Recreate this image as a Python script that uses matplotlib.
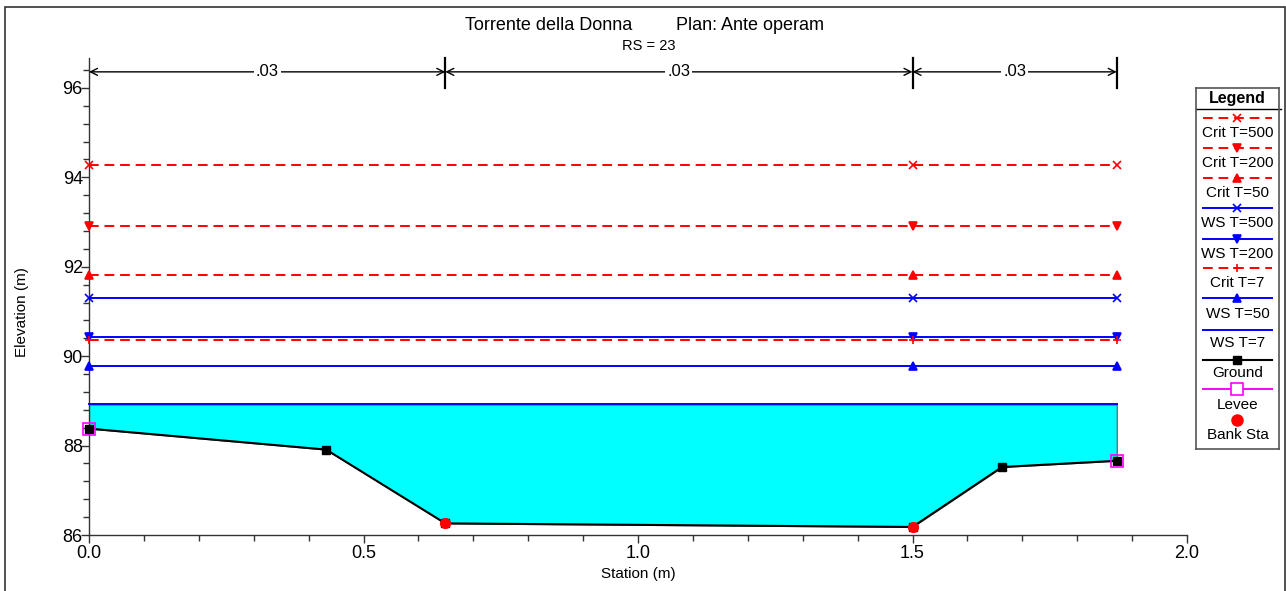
import matplotlib
matplotlib.use("Agg")
import matplotlib.pyplot as plt
from matplotlib.ticker import MultipleLocator, FormatStrFormatter
from matplotlib.patches import Rectangle

plt.rcParams['font.family'] = ['Liberation Sans', 'DejaVu Sans']

# ---------------- data ----------------
title_left = "Torrente della Donna"
title_right = "Plan: Ante operam"
subtitle = "RS = 23"

ground_station = [0.0, 0.432, 0.649, 1.500, 1.663, 1.872]
ground_elev = [88.38, 87.91, 86.26, 86.18, 87.52, 87.66]

ws_station = [0.0, 1.500, 1.872]
profile_names = ["Crit T=500", "Crit T=200", "Crit T=50", "WS T=500",
                 "WS T=200", "Crit T=7", "WS T=50", "WS T=7"]
profile_elev = [94.28, 92.91, 91.82, 91.31, 90.44, 90.36, 89.78, 88.92]
profile_color = ["red", "red", "red", "blue", "blue", "red", "blue", "blue"]
profile_style = ["--", "--", "--", "-", "-", "--", "-", "-"]
profile_marker = ["x", "v", "^", "x", "v", "+", "^", None]

levee_station = [0.0, 1.872]
levee_elev = [88.38, 87.66]
bank_station = [0.649, 1.500]
bank_elev = [86.26, 86.18]

manning_breaks = [0.0, 0.649, 1.500, 1.872]
manning_n = [".03", ".03", ".03"]

# ---------------- figure ----------------
W, H = 1286, 591
fig = plt.figure(figsize=(W / 100, H / 100), dpi=100)
ax = fig.add_axes([89 / W, 1 - 535 / H, (1187 - 89) / W, (535 - 58) / H])

ax.set_xlim(0, 2.0)
ax.set_ylim(86, 96.67)

# water fill (WS T=7)
ws7 = profile_elev[profile_names.index("WS T=7")]
ax.fill_between(ground_station, ground_elev, ws7, color=(0, 1, 1),
                edgecolor="#555555", linewidth=0.8, zorder=1)

# profile lines
for name, el, c, ls, mk in zip(profile_names, profile_elev, profile_color,
                               profile_style, profile_marker):
    kw = dict(color=c, linestyle=ls, linewidth=1.4, zorder=3, clip_on=False)
    if ls == "--":
        kw["dashes"] = (5, 3)
    ax.plot(ws_station, [el] * len(ws_station), marker=mk, markersize=6,
            markeredgewidth=1.2, **kw)

# ground
ax.plot(ground_station, ground_elev, color="black", linewidth=1.5,
        marker="s", markersize=6, zorder=4, clip_on=False)
# levee
ax.plot(levee_station, levee_elev, linestyle="none", marker="s",
        markersize=9, markerfacecolor="none", markeredgecolor=(1, 0, 1),
        markeredgewidth=1.2, zorder=5, clip_on=False)
# bank stations
ax.plot(bank_station, bank_elev, linestyle="none", marker="o",
        markersize=7, color="red", zorder=6, clip_on=False)

# Manning's n dimension lines
dim_y = 96.36
for x in manning_breaks[1:]:
    ax.plot([x, x], [96.0, 96.67], color="black", linewidth=1.6,
            clip_on=False, zorder=5)
for a, b, n in zip(manning_breaks[:-1], manning_breaks[1:], manning_n):
    ax.annotate("", xy=(a, dim_y), xytext=(b, dim_y),
                arrowprops=dict(arrowstyle="<->,head_length=0.5,head_width=0.25",
                                color="black", lw=1.0, shrinkA=0, shrinkB=0),
                annotation_clip=False)
    ax.text((a + b) / 2, dim_y, n, ha="center", va="center", fontsize=12,
            bbox=dict(facecolor="white", edgecolor="none", pad=1.5), zorder=6)

# axes styling
for s in ("top", "right"):
    ax.spines[s].set_visible(False)
for s in ("left", "bottom"):
    ax.spines[s].set_color("#333333")
    ax.spines[s].set_linewidth(1.0)
ax.xaxis.set_major_locator(MultipleLocator(0.5))
ax.xaxis.set_minor_locator(MultipleLocator(0.1))
ax.yaxis.set_major_locator(MultipleLocator(2))
ax.yaxis.set_minor_locator(MultipleLocator(0.4))
ax.xaxis.set_major_formatter(FormatStrFormatter("%.1f"))
ax.tick_params(which="major", length=6, width=1, color="#333333",
               labelsize=13)
ax.tick_params(axis="y", which="major", pad=-1.5)
ax.tick_params(axis="x", which="major", pad=1)
ax.tick_params(which="minor", length=4, width=1, color="#333333")
ax.set_xlabel("Station (m)", fontsize=11, labelpad=4)
ax.set_ylabel("")
fig.text(22 / W, 1 - 312 / H, "Elevation (m)", fontsize=11, rotation=90,
         ha="center", va="center")

# titles
fig.text(465 / W, 1 - 25 / H, title_left, fontsize=13, ha="left", va="center")
fig.text(676 / W, 1 - 25 / H, title_right, fontsize=13, ha="left", va="center")
fig.text(649 / W, 1 - 46 / H, subtitle, fontsize=10.5, ha="center", va="center")

# outer frame
fig.patches.append(Rectangle((4.5 / W, -0.02), (1285 - 4.5) / W, 1.02 - 7 / H,
                             transform=fig.transFigure, fill=False,
                             edgecolor="#333333", linewidth=1.2))

# ---------------- legend (manual) ----------------
lx0, lx1, ly0, ly1 = 1196, 1279, 88, 449
lax = fig.add_axes([lx0 / W, 1 - ly1 / H, (lx1 - lx0) / W, (ly1 - ly0) / H])
lax.set_xlim(lx0, lx1)
lax.set_ylim(ly1, ly0)
lax.set_xticks([])
lax.set_yticks([])
for s in lax.spines.values():
    s.set_color("#555555")
    s.set_linewidth(1.2)
lax.text((lx0 + lx1) / 2, 98, "Legend", fontsize=11.5, fontweight="bold",
         ha="center", va="center")
lax.plot([lx0, 1281], [109, 109], color="black", linewidth=1.0, clip_on=False)

leg_names = profile_names + ["Ground", "Levee", "Bank Sta"]
leg_line_y = [118, 148, 178, 208, 239, 268, 298, 330, 360, 389, 420]
leg_text_y = [133, 163, 193, 223, 254, 283, 314, 343, 373, 405, 435]
cx = 1237.5
for i, name in enumerate(leg_names):
    ly = leg_line_y[i]
    if i < len(profile_names):
        kw = dict(color=profile_color[i], linestyle=profile_style[i], linewidth=1.4)
        if profile_style[i] == "--":
            kw["dashes"] = (5, 3)
        lax.plot([1203, 1272], [ly, ly], **kw)
        if profile_marker[i]:
            lax.plot([cx], [ly], marker=profile_marker[i], markersize=6,
                     markeredgewidth=1.2, color=profile_color[i])
    elif name == "Ground":
        lax.plot([1203, 1272], [ly, ly], color="black", linewidth=1.5)
        lax.plot([cx], [ly], marker="s", markersize=6, color="black")
    elif name == "Levee":
        lax.plot([1203, 1272], [ly, ly], color=(1, 0, 1), linewidth=1.4)
        lax.plot([cx], [ly], marker="s", markersize=9, markerfacecolor="white",
                 markeredgecolor=(1, 0, 1), markeredgewidth=1.2)
    else:
        lax.plot([cx], [ly], marker="o", markersize=8, color="red")
    lax.text(cx, leg_text_y[i], name, fontsize=11, ha="center", va="center")

fig.savefig("out.png", dpi=100)
